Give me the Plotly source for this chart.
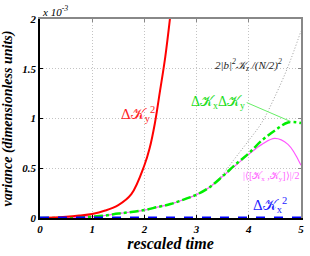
import plotly.graph_objects as go

# time grids
t_red = [0, 0.25, 0.5, 0.75, 1.0, 1.25, 1.5, 1.75, 2.0, 2.1, 2.2, 2.3, 2.4, 2.5]
t = [0, 0.25, 0.5, 0.75, 1.0, 1.25, 1.5, 1.75, 2.0, 2.25, 2.5, 2.75, 3.0, 3.25,
     3.5, 3.75, 4.0, 4.25, 4.5, 4.75, 5.0]

# values in units of 1e-3
dKy2 = [0, 0.004, 0.012, 0.024, 0.04, 0.075, 0.13, 0.24, 0.53, 0.70, 0.95, 1.28, 1.62, 2.05]
dKxdKy = [0, 0.001, 0.003, 0.007, 0.014, 0.025, 0.045, 0.06, 0.08, 0.11, 0.14, 0.185,
          0.235, 0.31, 0.42, 0.54, 0.65, 0.78, 0.88, 0.96, 0.955]
comm = [0, 0.001, 0.003, 0.007, 0.014, 0.025, 0.045, 0.06, 0.08, 0.11, 0.14, 0.185,
        0.235, 0.31, 0.42, 0.53, 0.64, 0.74, 0.80, 0.74, 0.53]
bound = [0, 0.001, 0.003, 0.007, 0.014, 0.025, 0.045, 0.06, 0.08, 0.11, 0.14, 0.185,
         0.235, 0.31, 0.44, 0.61, 0.78, 0.96, 1.22, 1.52, 1.88]
dKx2 = [0.0] * len(t)

x_ticks = [0, 1, 2, 3, 4, 5]
y_ticks = [0, 0.5, 1, 1.5, 2]
y_ticklabels = ["0", "0.5", "1", "1.5", "2"]

K = "𝒦"
serif = "Liberation Serif"

fig = go.Figure()
fig.add_trace(go.Scatter(x=t, y=bound, mode="lines", line=dict(color="#999999", width=1, dash="1px,2px", shape="spline"), showlegend=False))
fig.add_trace(go.Scatter(x=t, y=comm, mode="lines", line=dict(color="#ff55ff", width=1.2, shape="spline"), showlegend=False))
fig.add_trace(go.Scatter(x=t, y=dKxdKy, mode="lines", line=dict(color="#00ee00", width=2.5, dash="dashdot", shape="spline"), showlegend=False))
fig.add_trace(go.Scatter(x=t_red, y=dKy2, mode="lines", line=dict(color="#ff0000", width=2, shape="spline"), showlegend=False))
fig.add_trace(go.Scatter(x=t, y=dKx2, mode="lines", line=dict(color="#0000ff", width=3, dash="dash"), showlegend=False))

# mirrored gray frame with ticks
fig.add_trace(go.Scatter(x=[None], y=[None], xaxis="x2", yaxis="y2", showlegend=False))

tickfont = dict(family=serif, size=11, color="black", weight="bold", style="italic")
grid = dict(showgrid=True, gridcolor="#c4c4c4", griddash="1px,2px", gridwidth=1)
fig.update_layout(
    width=310, height=256,
    margin=dict(l=39, r=6, t=19, b=29),
    paper_bgcolor="white", plot_bgcolor="white",
    xaxis=dict(range=[0, 5], tickvals=x_ticks, ticks="inside", ticklen=3, tickcolor="black",
               showline=True, linecolor="black", linewidth=1.5, **grid,
               zeroline=False, tickfont=tickfont,
               title=dict(text="rescaled time", standoff=4,
                          font=dict(family=serif, size=16, color="black", weight="bold", style="italic"))),
    yaxis=dict(range=[0, 2], tickvals=y_ticks, ticktext=y_ticklabels, ticks="inside", ticklen=3, tickcolor="black",
               showline=True, linecolor="black", linewidth=1.5, **grid,
               zeroline=False, tickfont=tickfont,
               title=dict(text="variance (dimensionless units)", standoff=6,
                          font=dict(family=serif, size=14, color="black", weight="bold", style="italic"))),
    xaxis2=dict(range=[0, 5], overlaying="x", side="top", tickvals=x_ticks, ticks="inside", ticklen=3,
                tickcolor="#888888", showticklabels=False, showline=True, linecolor="#888888", linewidth=2,
                showgrid=False, zeroline=False),
    yaxis2=dict(range=[0, 2], overlaying="y", side="right", tickvals=y_ticks, ticks="inside", ticklen=3,
                tickcolor="#888888", showticklabels=False, showline=True, linecolor="#888888", linewidth=1.5,
                showgrid=False, zeroline=False),
)

ann = []
ann.append(dict(x=0.0, y=1.0, xref="paper", yref="paper", xanchor="left", yanchor="bottom",
                text="x 10<sup>-3</sup>", showarrow=False, yshift=-1,
                font=dict(family=serif, size=11, color="black", style="italic")))
ann.append(dict(x=1.88, y=1.05, text=f"Δ{K}<sub>y</sub><sup>2</sup>", showarrow=False,
                font=dict(family=serif, size=15, color="#ff2222")))
ann.append(dict(x=4.0, y=1.54, text=f"2|b|<sup>2</sup>{K}<sub>z</sub> /(N/2)<sup>2</sup>", showarrow=False,
                font=dict(family=serif, size=11, color="#222222", style="italic")))
ann.append(dict(x=4.8, y=0.97, ax=3.96, ay=1.16, axref="x", ayref="y", text=f"Δ{K}<sub>x</sub>Δ{K}<sub>y</sub>",
                showarrow=True, arrowhead=0, arrowwidth=1, arrowcolor="#66ee66", xanchor="right", yanchor="middle",
                font=dict(family=serif, size=14, color="#22dd22")))
ann.append(dict(x=4.42, y=0.42, text=f"|⟨[{K}<sub>x</sub> ,{K}<sub>y</sub>]⟩|/2", showarrow=False,
                font=dict(family=serif, size=10, color="#ff66ff")))
ann.append(dict(x=4.4, y=0.13, text=f"Δ{K}<sub>x</sub><sup>2</sup>", showarrow=False,
                font=dict(family=serif, size=15, color="#2222ff")))
fig.update_layout(annotations=ann)

fig.write_html("out.html", config={"displayModeBar": False},
               post_script="document.body.style.margin='0';document.body.style.padding='0';")
